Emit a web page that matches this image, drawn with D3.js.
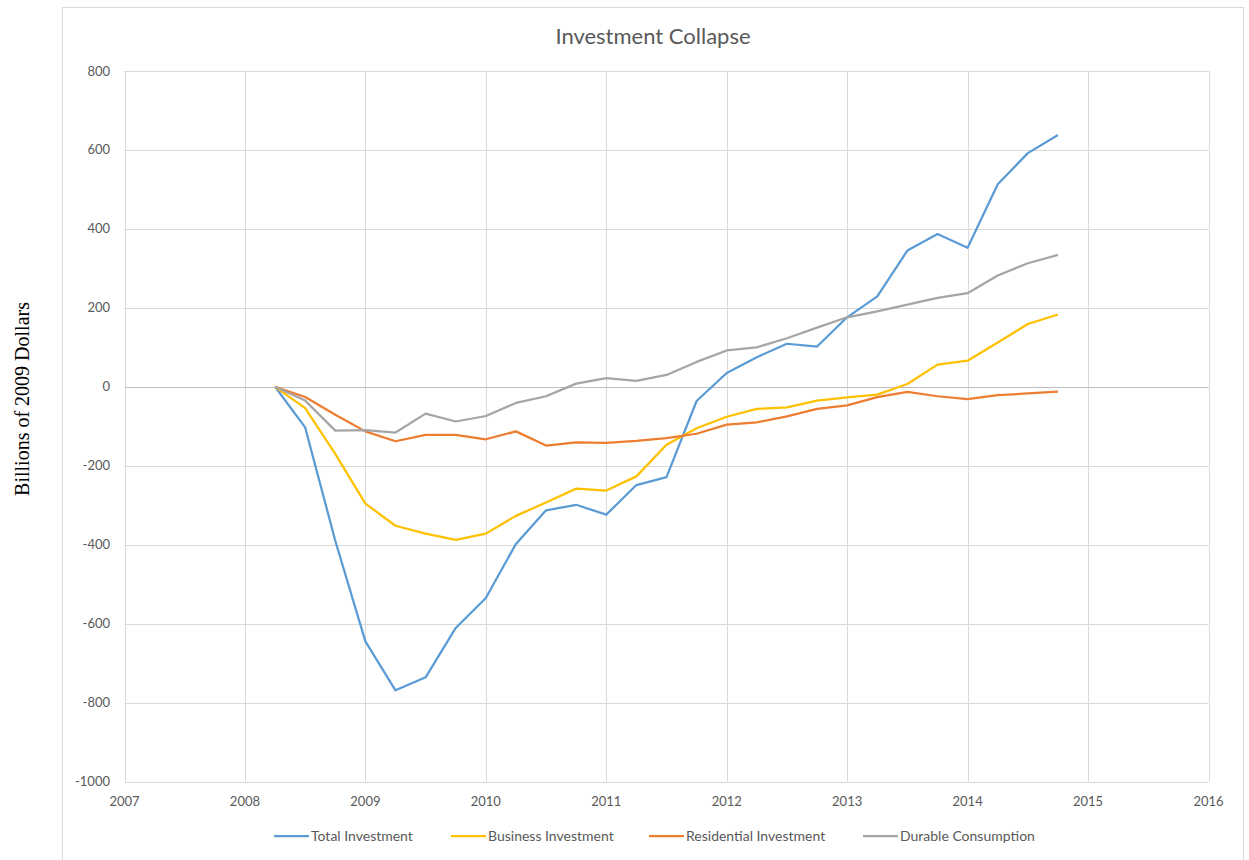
<!DOCTYPE html>
<html>
<head>
<meta charset="utf-8">
<script src="https://cdn.jsdelivr.net/npm/d3@7"></script>
<style>
  body { margin: 0; background: #fff; }
  text { font-family: Lato, "Open Sans", sans-serif; }
</style>
</head>
<body>
<svg id="chart" width="1249" height="860"></svg>
<script>
// quarterly dates, 2008 Q2 .. 2014 Q4
var quarters = d3.range(27).map(function(i) { return 2008.25 + i * 0.25; });

var totalInvestment = [0, -103, -390, -645, -769, -736, -611, -535, -398, -313, -299, -324,
  -249, -229, -36, 35, 75, 109, 102, 176, 229, 345, 387, 352, 513, 592, 638];
var businessInvestment = [0, -54, -170, -296, -352, -372, -388, -372, -327, -293, -258, -263,
  -227, -147, -105, -76, -56, -52, -35, -27, -20, 7, 56, 66, 112, 159, 183];
var residentialInvestment = [0, -26, -71, -113, -138, -122, -122, -133, -113, -149, -141, -142,
  -137, -130, -119, -96, -90, -75, -56, -47, -26, -13, -24, -31, -21, -17, -12];
var durableConsumption = [0, -35, -111, -110, -116, -68, -88, -74, -41, -24, 8, 22,
  15, 30, 63, 92, 100, 123, 150, 176, 191, 208, 225, 237, 282, 313, 334];

var seriesNames = ['Total Investment', 'Business Investment', 'Residential Investment', 'Durable Consumption'];
var seriesColors = ['#5b9bd5', '#ffc000', '#ed7d31', '#a5a5a5'];
var seriesValues = [totalInvestment, businessInvestment, residentialInvestment, durableConsumption];

var yearTicks = d3.range(2007, 2017);
var valueTicks = d3.range(-1000, 801, 200);

var svg = d3.select('#chart');

// outer chart frame
svg.append('rect')
  .attr('x', 62.5).attr('y', 7.5)
  .attr('width', 1181).attr('height', 870)
  .attr('fill', '#fff')
  .attr('stroke', '#d9d9d9');

var plot = { left: 124.5, right: 1208.5, top: 71, bottom: 781.5 };

var x = d3.scaleLinear().domain([2007, 2016]).range([plot.left, plot.right]);
var y = d3.scaleLinear().domain([-1000, 800]).range([plot.bottom, plot.top]);

// vertical gridlines
svg.append('g').selectAll('line')
  .data(yearTicks)
  .enter().append('line')
  .attr('x1', function(d) { return Math.round(x(d)) + 0.5; })
  .attr('x2', function(d) { return Math.round(x(d)) + 0.5; })
  .attr('y1', plot.top).attr('y2', plot.bottom)
  .attr('stroke', '#d9d9d9');

// horizontal gridlines
svg.append('g').selectAll('line')
  .data(valueTicks)
  .enter().append('line')
  .attr('x1', plot.left).attr('x2', plot.right)
  .attr('y1', function(d) { return Math.round(y(d)) + 0.5; })
  .attr('y2', function(d) { return Math.round(y(d)) + 0.5; })
  .attr('stroke', function(d) { return d === 0 ? '#bfbfbf' : '#d9d9d9'; });

// y tick labels
svg.append('g').selectAll('text')
  .data(valueTicks)
  .enter().append('text')
  .attr('x', 110)
  .attr('y', function(d) { return y(d); })
  .attr('dy', '0.35em')
  .attr('text-anchor', 'end')
  .attr('font-size', 13)
  .attr('fill', '#595959')
  .text(function(d) { return d; });

// x tick labels
svg.append('g').selectAll('text')
  .data(yearTicks)
  .enter().append('text')
  .attr('x', function(d) { return x(d); })
  .attr('y', plot.bottom + 20)
  .attr('dy', '0.35em')
  .attr('text-anchor', 'middle')
  .attr('font-size', 13)
  .attr('fill', '#595959')
  .text(function(d) { return d; });

// lines
var line = d3.line()
  .x(function(d, i) { return x(quarters[i]); })
  .y(function(d) { return y(d); });

seriesValues.forEach(function(vals, k) {
  svg.append('path')
    .datum(vals)
    .attr('d', line)
    .attr('fill', 'none')
    .attr('stroke', seriesColors[k])
    .attr('stroke-width', 2.25)
    .attr('stroke-linejoin', 'round');
});

// title
svg.append('text')
  .attr('x', 653).attr('y', 36)
  .attr('dy', '0.35em')
  .attr('text-anchor', 'middle')
  .attr('font-size', 22)
  .attr('fill', '#595959')
  .text('Investment Collapse');

// y axis title
svg.append('text')
  .attr('transform', 'translate(22,399)rotate(-90)')
  .attr('dy', '0.35em')
  .attr('text-anchor', 'middle')
  .style('font-family', '"Liberation Serif", "DejaVu Serif", serif')
  .attr('font-size', 20)
  .attr('fill', '#000')
  .text('Billions of 2009 Dollars');

// legend
var legendX = [274, 451, 649, 863];
var legend = svg.append('g').selectAll('g')
  .data(seriesNames)
  .enter().append('g')
  .attr('transform', function(d, i) { return 'translate(' + legendX[i] + ',836)'; });

legend.append('line')
  .attr('x1', 0).attr('x2', 35)
  .attr('stroke', function(d, i) { return seriesColors[i]; })
  .attr('stroke-width', 2.25);

legend.append('text')
  .attr('x', 37)
  .attr('dy', '0.35em')
  .attr('font-size', 14)
  .attr('fill', '#595959')
  .text(function(d) { return d; });
</script>
</body>
</html>
